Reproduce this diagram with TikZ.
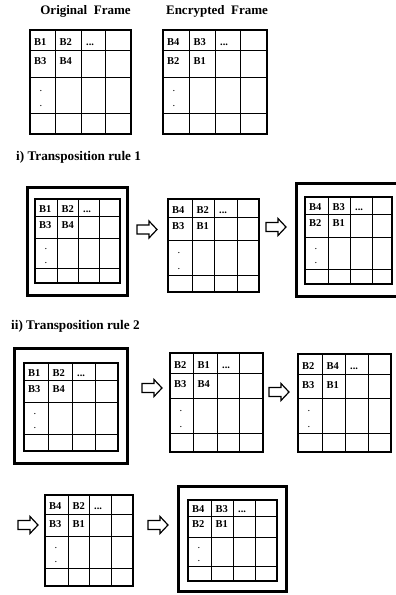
\documentclass[tikz,border=0pt]{standalone}
\usepackage{fontspec}
\setmainfont{Liberation Serif}
\tikzset{
  gridin/.style={line width=0.9pt},
  gridout/.style={line width=2pt},
  frameline/.style={line width=3pt},
  arrowline/.style={line width=1.2pt, fill=white, line join=miter},
  cell/.style={font=\bfseries\fontsize{10.5}{12}\selectfont, anchor=base west, inner sep=0pt},
  dotcell/.style={font=\fontsize{10.5}{12}\selectfont, anchor=center, inner sep=0pt},
  title/.style={font=\bfseries\fontsize{13}{15}\selectfont, anchor=base, inner sep=0pt},
  section/.style={font=\bfseries\fontsize{13.2}{15}\selectfont, anchor=base west, inner sep=0pt}
}
\makeatletter
\def\setgx#1,#2,#3,#4,#5\@nil{\def\gxa{#1}\def\gxb{#2}\def\gxc{#3}\def\gxd{#4}\def\gxe{#5}}
\def\setgy#1,#2,#3,#4,#5\@nil{\def\gya{#1}\def\gyb{#2}\def\gyc{#3}\def\gyd{#4}\def\gye{#5}}
\newcommand{\fgrid}[7]{%
  \setgx#2\@nil
  \setgy#3\@nil
  \draw[gridin] (\gxb,\gya) -- (\gxb,\gye) (\gxc,\gya) -- (\gxc,\gye) (\gxd,\gya) -- (\gxd,\gye)
    (\gxa,\gyb) -- (\gxe,\gyb) (\gxa,\gyc) -- (\gxe,\gyc) (\gxa,\gyd) -- (\gxe,\gyd);
  \draw[gridout] (\gxa,\gya) rectangle (\gxe,\gye);
  \pgfmathsetmacro\bla{\gya+0.78*(\gyb-\gya)}
  \pgfmathsetmacro\blb{\gyb+0.72*(\gyb-\gya)}
  \pgfmathsetmacro\dya{\gyc+0.38*(\gyd-\gyc)}
  \pgfmathsetmacro\dyb{\gyc+0.82*(\gyd-\gyc)}
  \node[cell] (#1-a) at (\gxa+4,\bla) {#4};
  \node[cell] (#1-b) at (\gxb+4.5,\bla) {#5};
  \node[cell] (#1-c) at (\gxc+5,\bla) {...};
  \node[cell] (#1-d) at (\gxa+4,\blb) {#6};
  \node[cell] (#1-e) at (\gxb+4.5,\blb) {#7};
  \node[dotcell] (#1-f) at (\gxa+11,\dya) {.};
  \node[dotcell] (#1-g) at (\gxa+11,\dyb) {.};
}
\makeatother
\newcommand{\fframe}[4]{\draw[frameline] (#1,#2) rectangle (#3,#4);}
\newcommand{\barrow}[2]{\draw[arrowline] (#1,#2-4.5) -- ++(12,0) -- ++(0,-4) -- ++(8,8.5) -- ++(-8,8.5) -- ++(0,-4) -- ++(-12,0) -- cycle;}
\begin{document}
\begin{tikzpicture}[x=1pt,y=-1pt]
\path[use as bounding box, clip] (0,0) rectangle (396,595);
% titles
\node[title] (t1) at (85.5,14) {Original\ \ Frame};
\node[title] (t2) at (217,14) {Encrypted\ \ Frame};
\fgrid{ga}{30,55,81,105,131}{30,50,77,113,134}{B1}{B2}{B3}{B4}
\fgrid{gb}{163,189,215,240,267}{30,50,77,113,134}{B4}{B3}{B2}{B1}
% rule 1
\node[section] (s1) at (16,160.5) {i) Transposition rule 1};
\fframe{27.5}{187.5}{127.5}{295.5}
\fgrid{ra}{35,57,78,99,120}{199,216,238,268,283}{B1}{B2}{B3}{B4}
\barrow{137}{229.5}
\fgrid{rb}{168,192,214,237,259}{199,217,240,275,292}{B4}{B2}{B3}{B1}
\barrow{266}{227}
\fframe{296.5}{183.5}{403}{296.5}
\fgrid{rc}{305,328,350,372,392}{197,214,237,269,284}{B4}{B3}{B2}{B1}
% rule 2
\node[section] (s2) at (11,329) {ii) Transposition rule 2};
\fframe{14.5}{348.5}{127.5}{463}
\fgrid{qa}{24,48,72,95,118}{363,380,402,434,451}{B1}{B2}{B3}{B4}
\barrow{142}{388}
\fgrid{qb}{170,193,217,239,263}{353,373,398,433,452}{B2}{B1}{B3}{B4}
\barrow{269}{392}
\fgrid{qc}{298,322,345,368,391}{354,374,398,433,452}{B2}{B4}{B3}{B1}
\barrow{18}{525}
\fgrid{pa}{45,68,89,111,133}{495,514,536,568,586}{B4}{B2}{B3}{B1}
\barrow{148}{525}
\fframe{178.5}{486.5}{286.5}{591.5}
\fgrid{pb}{188,211,233,255,277}{500,516,537,566,581}{B4}{B3}{B2}{B1}
\end{tikzpicture}
\end{document}
